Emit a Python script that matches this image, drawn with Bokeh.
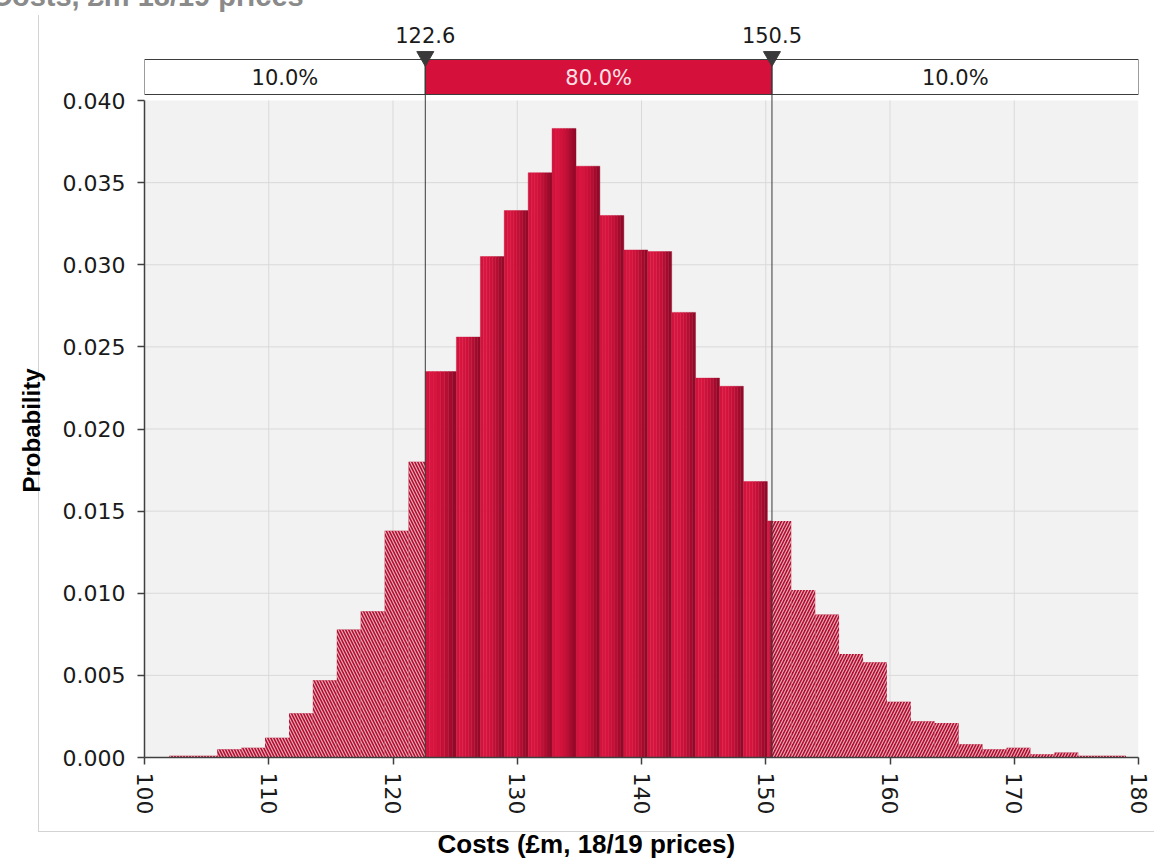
from bokeh.plotting import figure
from bokeh.models import Range1d, FixedTicker, NumeralTickFormatter, Title, Div
from bokeh.layouts import column
from bokeh.core.properties import value
from bokeh.embed import file_html
from bokeh.resources import INLINE

# ---------------- data ----------------
bin_edges = [102.0, 103.93, 105.85, 107.78, 109.7, 111.63, 113.55, 115.48, 117.4, 119.33,
             121.25, 122.6, 125.1, 127.03, 128.95, 130.88, 132.8, 134.73, 136.65, 138.58,
             140.5, 142.43, 144.35, 146.28, 148.2, 150.13, 152.05, 153.98, 155.9, 157.83,
             159.75, 161.68, 163.6, 165.53, 167.45, 169.38, 171.3, 173.23, 175.15, 177.08, 179.0]
probabilities = [0.0001, 0.0001, 0.0005, 0.0006, 0.0012, 0.0027, 0.0047, 0.0078, 0.0089, 0.0138,
                 0.0180, 0.0235, 0.0256, 0.0305, 0.0333, 0.0356, 0.0383, 0.0360, 0.0330, 0.0309,
                 0.0308, 0.0271, 0.0231, 0.0226, 0.0168, 0.0144, 0.0102, 0.0087, 0.0063, 0.0058,
                 0.0034, 0.0022, 0.0021, 0.0008, 0.0005, 0.0006, 0.0002, 0.0003, 0.0001, 0.0001]
delimiters = [122.6, 150.5]
band_labels = ["10.0%", "80.0%", "10.0%"]
x_ticks = [100, 110, 120, 130, 140, 150, 160, 170, 180]
y_ticks = [0.000, 0.005, 0.010, 0.015, 0.020, 0.025, 0.030, 0.035, 0.040]
title_text = "Costs, £m 18/19 prices"
x_title = "Costs (£m, 18/19 prices)"
y_title = "Probability"

# ---------------- layout ----------------
W, H = 1154, 868
FL, FR = 144, 1138          # frame left / right in px
PY0, PYTOP = 757, 100       # px of y = 0 and y = 0.040
XMIN, XMAX, YTOP = 100, 180, 0.040
ppx = (FR - FL) / (XMAX - XMIN)
ppy = (PY0 - PYTOP) / YTOP


def yd(py):
    return (PY0 - py) / ppy


# light border of the pasted chart picture (CSS lines behind a transparent canvas)
border_css = {
    "background-image": "linear-gradient(#d3d3d3,#d3d3d3), linear-gradient(#d3d3d3,#d3d3d3)",
    "background-size": "1px 816px, 1120px 1px",
    "background-position": "38px 15px, 38px 831px",
    "background-repeat": "no-repeat",
    "background-color": "white",
}

p = figure(width=W, height=H, x_range=Range1d(XMIN, XMAX), y_range=Range1d(0, yd(0)),
           output_backend="svg", toolbar_location=None,
           min_border_left=FL, min_border_right=W - FR, min_border_top=0,
           min_border_bottom=H - PY0, styles=border_css)
p.background_fill_color = "white"
p.border_fill_alpha = 0
p.outline_line_color = None
p.grid.visible = False

# plot area background and grid
p.quad(left=XMIN, right=XMAX, bottom=0, top=YTOP, fill_color="#f2f2f2", line_color=None)
gx = x_ticks[1:-1]
p.segment(x0=gx, y0=[0] * len(gx), x1=gx, y1=[YTOP] * len(gx), line_color="#d9d9d9", line_width=1)
gy = y_ticks[1:-1]
p.segment(x0=[XMIN] * len(gy), y0=gy, x1=[XMAX] * len(gy), y1=gy, line_color="#d9d9d9", line_width=1)

# split bins at delimiters
lo, hi = delimiters
tails_l = dict(left=[], right=[], top=[])
tails_r = dict(left=[], right=[], top=[])
mid = dict(left=[], right=[], top=[])
for i, h in enumerate(probabilities):
    l, r = bin_edges[i], bin_edges[i + 1]
    cuts = [l] + [d for d in delimiters if l < d < r] + [r]
    for a, b in zip(cuts[:-1], cuts[1:]):
        c = (a + b) / 2
        tgt = tails_l if c < lo else (tails_r if c > hi else mid)
        tgt["left"].append(a)
        tgt["right"].append(b)
        tgt["top"].append(h)

hatch_common = dict(fill_color="#ad0e2e", line_color=None, hatch_color="#f6b9c6",
                    hatch_alpha=0.9, hatch_weight=1.2, hatch_scale=6)
p.quad(left=tails_l["left"], right=tails_l["right"], top=tails_l["top"],
       bottom=[0] * len(tails_l["top"]), hatch_pattern="\\", **hatch_common)
p.quad(left=tails_r["left"], right=tails_r["right"], top=tails_r["top"],
       bottom=[0] * len(tails_r["top"]), hatch_pattern="/", **hatch_common)

# solid bars drawn as gradient strips
grad = ["#d0143d", "#d8163f", "#d6143e", "#cf123b", "#c51037", "#b70e33", "#a50b2e", "#930928"]
sl, sr, st, sc = [], [], [], []
for a, b, h in zip(mid["left"], mid["right"], mid["top"]):
    n = len(grad)
    w = (b - a) / n
    for k in range(n):
        sl.append(a + k * w)
        sr.append(a + (k + 1) * w)
        st.append(h)
        sc.append(grad[k])
p.quad(left=sl, right=sr, top=st, bottom=[0] * len(st), fill_color=sc, line_color=sc, line_width=0.4)

# top band
band_edges = [XMIN] + delimiters + [XMAX]
p.quad(left=band_edges[:-1], right=band_edges[1:], bottom=yd(94), top=yd(59),
       fill_color=["white", "#d5103a", "white"], line_color="#3c3c3c", line_width=1)
centers = [(a + b) / 2 for a, b in zip(band_edges[:-1], band_edges[1:])]
p.text(x=centers, y=[yd(77)] * 3, text=band_labels, text_align="center", text_baseline="middle",
       text_font=value("DejaVu Sans"), text_font_size="21px",
       text_color=["#1a1a1a", "#fbe0e6", "#1a1a1a"])

# delimiter lines, markers and labels
p.segment(x0=delimiters, y0=[0, 0], x1=delimiters, y1=[yd(62)] * 2, line_color="#3a3a3a", line_width=1)
p.scatter(x=delimiters, y=[yd(56)] * 2, marker="inverted_triangle", size=17,
          fill_color="#3a3a3a", line_color="#3a3a3a")
p.text(x=delimiters, y=[yd(34)] * 2, text=[f"{d:.1f}" for d in delimiters],
       text_align="center", text_baseline="middle", text_font=value("DejaVu Sans"),
       text_font_size="21px", text_color="#1a1a1a")

# axes
for ax in (p.xaxis[0], p.yaxis[0]):
    ax.axis_line_color = "#404040"
    ax.axis_line_width = 1.5
    ax.major_tick_line_color = "#404040"
    ax.major_tick_line_width = 1.5
    ax.major_tick_out = 7
    ax.major_tick_in = 0
    ax.minor_tick_line_color = None
    ax.major_label_text_font = "DejaVu Sans"
    ax.major_label_text_color = "#1a1a1a"

p.xaxis.ticker = FixedTicker(ticks=x_ticks)
p.xaxis.bounds = (XMIN, XMAX)
p.xaxis.major_label_orientation = "vertical"
p.xaxis.major_label_text_font_size = "22px"
p.xaxis.major_label_standoff = 8

p.yaxis.ticker = FixedTicker(ticks=y_ticks)
p.yaxis.bounds = (0, YTOP)
p.yaxis.formatter = NumeralTickFormatter(format="0.000")
p.yaxis.major_label_text_font_size = "22px"
p.yaxis.major_label_standoff = 12

# axis titles
p.add_layout(Title(text=x_title, align="left", offset=293, standoff=19,
                   text_font="Liberation Sans", text_font_style="bold", text_font_size="26px",
                   text_color="#000000"), "below")
p.add_layout(Title(text=y_title, align="left", offset=265, standoff=29,
                   text_font="Liberation Sans", text_font_style="bold", text_font_size="24px",
                   text_color="#000000"), "left")

# cut-off heading above the chart
head = Div(text=title_text, width=420, height=36,
           styles={"position": "absolute", "top": "-26px", "left": "-14px", "z-index": "5",
                   "font-family": "'Liberation Sans', Arial, sans-serif", "font-weight": "bold",
                   "font-size": "29px", "color": "#8a8a8a", "white-space": "nowrap",
                   "line-height": "34px"})

layout = column(p, head)
open("out.html", "w").write(file_html(layout, INLINE))
